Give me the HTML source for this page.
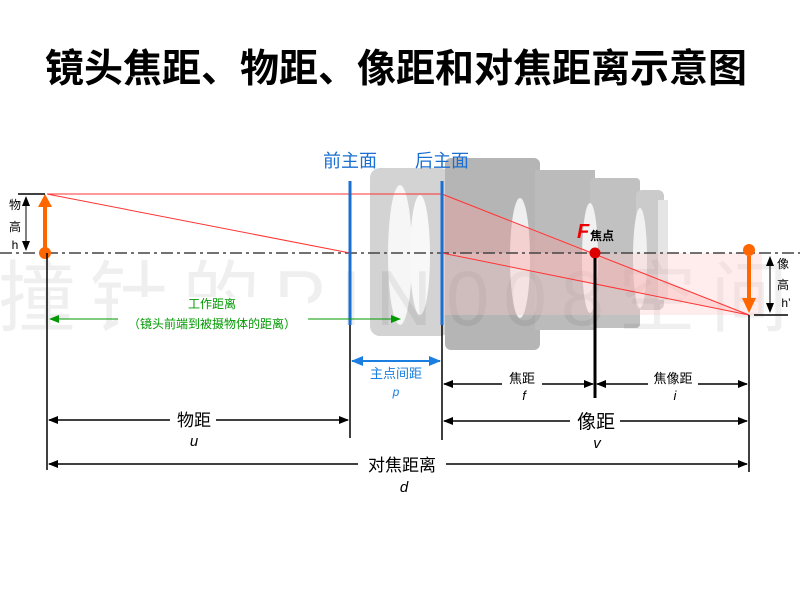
<!DOCTYPE html>
<html><head><meta charset="utf-8"><style>
body{margin:0;background:#fff}
svg text{font-family:"Liberation Sans","Noto Sans CJK SC",sans-serif}
</style></head><body>
<svg width="800" height="600" viewBox="0 0 800 600" xmlns="http://www.w3.org/2000/svg">
<defs>
<marker id="ab" markerWidth="10" markerHeight="8" refX="9" refY="4" orient="auto-start-reverse" markerUnits="userSpaceOnUse"><path d="M0,0 L10,4 L0,8 Z" fill="#000"/></marker>
<marker id="ag" markerWidth="10" markerHeight="8" refX="9" refY="4" orient="auto-start-reverse" markerUnits="userSpaceOnUse"><path d="M0,0 L10,4 L0,8 Z" fill="#090"/></marker>
<marker id="abl" markerWidth="12" markerHeight="10" refX="11" refY="5" orient="auto-start-reverse" markerUnits="userSpaceOnUse"><path d="M0,0 L12,5 L0,10 Z" fill="#1a7fe0"/></marker>
</defs>
<text x="396" y="82" font-size="39" font-weight="bold" text-anchor="middle" fill="#000">镜头焦距、物距、像距和对焦距离示意图</text>

<!-- lens photo approximation -->
<g opacity="0.5">
<rect x="370" y="168" width="80" height="168" rx="10" fill="#a8a8a8"/>
<rect x="445" y="158" width="95" height="192" rx="6" fill="#6d6d6d"/>
<rect x="535" y="170" width="60" height="160" fill="#7a7a7a"/>
<rect x="590" y="178" width="50" height="150" rx="4" fill="#858585"/>
<rect x="636" y="190" width="28" height="120" rx="6" fill="#999"/>
<rect x="658" y="200" width="10" height="100" fill="#ccc"/>
<ellipse cx="400" cy="255" rx="12" ry="70" fill="#eee"/>
<ellipse cx="420" cy="255" rx="10" ry="60" fill="#f2f2f2"/>
<ellipse cx="520" cy="258" rx="10" ry="60" fill="#e0e0e0"/>
<ellipse cx="590" cy="258" rx="8" ry="55" fill="#e5e5e5"/>
<ellipse cx="640" cy="258" rx="7" ry="50" fill="#e5e5e5"/>
</g>
<!-- watermark -->
<text x="400" y="325" font-size="78" fill="#000" opacity="0.06" text-anchor="middle" letter-spacing="14">撞针的PIN008空间</text>

<!-- pink ray fill -->
<polygon points="442,194 595,253 749,315 442,253" fill="#ff9a9a" opacity="0.35"/>
<rect x="442" y="253" width="320" height="62" fill="#ffcccc" opacity="0.35"/>

<!-- axis -->
<line x1="0" y1="253" x2="800" y2="253" stroke="#444" stroke-width="1.5" stroke-dasharray="12,4,3,4"/>

<!-- rays -->
<line x1="47" y1="194" x2="442" y2="194" stroke="#f33" stroke-width="1"/>
<line x1="442" y1="194" x2="749" y2="315" stroke="#f33" stroke-width="1"/>
<line x1="47" y1="194" x2="350" y2="253" stroke="#f33" stroke-width="1"/>
<line x1="442" y1="253" x2="749" y2="315" stroke="#f33" stroke-width="1"/>

<!-- principal planes -->
<line x1="350" y1="181" x2="350" y2="325" stroke="#1a6fd0" stroke-width="3"/>
<line x1="442" y1="181" x2="442" y2="325" stroke="#1a6fd0" stroke-width="3"/>
<text x="350" y="167" font-size="18" fill="#1a6fd0" text-anchor="middle">前主面</text>
<text x="442" y="167" font-size="18" fill="#1a6fd0" text-anchor="middle">后主面</text>

<!-- object arrow -->
<line x1="45" y1="250" x2="45" y2="204" stroke="#f60" stroke-width="4"/>
<path d="M38,207 L45,194 L52,207 Z" fill="#f60"/>
<circle cx="45" cy="253" r="6" fill="#f60"/>
<line x1="18" y1="194" x2="45" y2="194" stroke="#000" stroke-width="1.5"/>
<line x1="26" y1="197" x2="26" y2="250" stroke="#000" stroke-width="1" marker-start="url(#ab)" marker-end="url(#ab)"/>
<text x="15" y="209" font-size="12" text-anchor="middle">物</text>
<text x="15" y="231" font-size="12" text-anchor="middle">高</text>
<text x="15" y="249" font-size="12" text-anchor="middle">h</text>

<!-- image arrow -->
<line x1="749" y1="256" x2="749" y2="302" stroke="#f60" stroke-width="4"/>
<path d="M742,298 L749,313 L756,298 Z" fill="#f60"/>
<circle cx="749" cy="250" r="6" fill="#f60"/>
<line x1="754" y1="315" x2="788" y2="315" stroke="#000" stroke-width="1.5"/>
<line x1="770" y1="257" x2="770" y2="312" stroke="#000" stroke-width="1" marker-start="url(#ab)" marker-end="url(#ab)"/>
<text x="783" y="268" font-size="12" text-anchor="middle">像</text>
<text x="783" y="289" font-size="12" text-anchor="middle">高</text>
<text x="786" y="307" font-size="12" text-anchor="middle">h’</text>

<!-- focus -->
<circle cx="595" cy="253" r="5.5" fill="#d00"/>
<text x="577" y="238" font-size="20" font-weight="bold" font-style="italic" fill="#e00">F</text>
<text x="590" y="240" font-size="12" font-weight="bold">焦点</text>

<!-- vertical dimension lines -->
<line x1="47" y1="253" x2="47" y2="470" stroke="#000" stroke-width="1.5"/>
<line x1="350" y1="325" x2="350" y2="438" stroke="#000" stroke-width="1.5"/>
<line x1="442" y1="325" x2="442" y2="440" stroke="#000" stroke-width="1.5"/>
<line x1="595" y1="258" x2="595" y2="398" stroke="#000" stroke-width="3"/>
<line x1="749" y1="315" x2="749" y2="472" stroke="#000" stroke-width="1.5"/>

<!-- working distance -->
<line x1="50" y1="319" x2="400" y2="319" stroke="#090" stroke-width="1" marker-start="url(#ag)" marker-end="url(#ag)"/>
<rect x="118" y="297" width="190" height="36" fill="#fff"/>
<text x="212" y="308" font-size="12" fill="#090" text-anchor="middle">工作距离</text>
<text x="212" y="328" font-size="12" fill="#090" text-anchor="middle">（镜头前端到被摄物体的距离）</text>

<!-- principal distance -->
<line x1="352" y1="361" x2="440" y2="361" stroke="#1a7fe0" stroke-width="2" marker-start="url(#abl)" marker-end="url(#abl)"/>
<text x="396" y="378" font-size="13" fill="#1a7fe0" text-anchor="middle">主点间距</text>
<text x="396" y="396" font-size="12" font-style="italic" fill="#1a7fe0" text-anchor="middle">p</text>

<!-- f and i -->
<line x1="444" y1="384" x2="593" y2="384" stroke="#000" stroke-width="1.5" marker-start="url(#ab)" marker-end="url(#ab)"/>
<line x1="597" y1="384" x2="747" y2="384" stroke="#000" stroke-width="1.5" marker-start="url(#ab)" marker-end="url(#ab)"/>
<rect x="502" y="370" width="40" height="20" fill="#fff"/>
<rect x="648" y="370" width="50" height="20" fill="#fff"/>
<text x="522" y="383" font-size="13" text-anchor="middle">焦距</text>
<text x="524" y="400" font-size="13" font-style="italic" text-anchor="middle">f</text>
<text x="673" y="383" font-size="13" text-anchor="middle">焦像距</text>
<text x="675" y="400" font-size="13" font-style="italic" text-anchor="middle">i</text>

<!-- u, v -->
<line x1="49" y1="420" x2="348" y2="420" stroke="#000" stroke-width="1.5" marker-start="url(#ab)" marker-end="url(#ab)"/>
<line x1="444" y1="421" x2="747" y2="421" stroke="#000" stroke-width="1.5" marker-start="url(#ab)" marker-end="url(#ab)"/>
<rect x="170" y="408" width="46" height="24" fill="#fff"/>
<rect x="570" y="408" width="50" height="24" fill="#fff"/>
<text x="194" y="426" font-size="17" text-anchor="middle">物距</text>
<text x="194" y="446" font-size="15" font-style="italic" text-anchor="middle">u</text>
<text x="596" y="428" font-size="19" text-anchor="middle">像距</text>
<text x="597" y="448" font-size="15" font-style="italic" text-anchor="middle">v</text>

<!-- d -->
<line x1="49" y1="464" x2="747" y2="464" stroke="#000" stroke-width="1.5" marker-start="url(#ab)" marker-end="url(#ab)"/>
<rect x="358" y="452" width="88" height="24" fill="#fff"/>
<text x="402" y="471" font-size="17" text-anchor="middle">对焦距离</text>
<text x="404" y="492" font-size="15" font-style="italic" text-anchor="middle">d</text>
</svg>
</body></html>
